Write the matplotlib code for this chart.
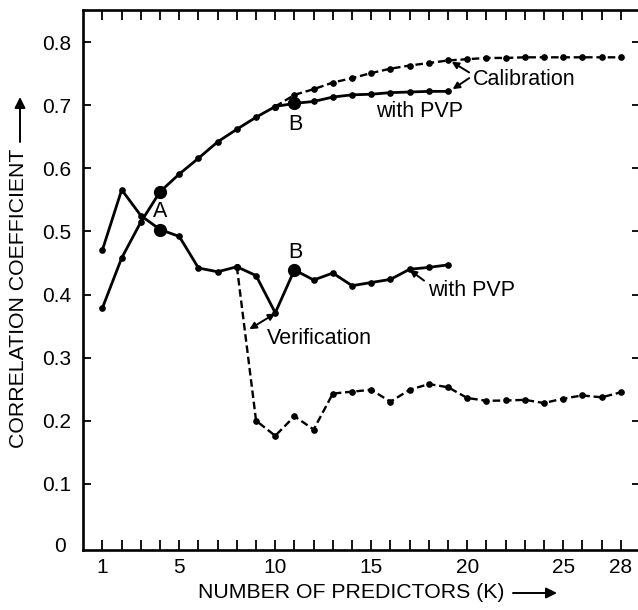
import matplotlib
matplotlib.use("Agg")
import matplotlib.pyplot as plt

plt.rcParams['font.family'] = ['Liberation Sans', 'DejaVu Sans']

# number of predictors
k_all = list(range(1, 29))
k_pvp = list(range(1, 20))

# calibration curve (without PVP), K = 1..28
calib = [0.379, 0.458, 0.515, 0.563, 0.591, 0.616, 0.642, 0.662, 0.681, 0.698,
         0.7165, 0.7255, 0.736, 0.743, 0.751, 0.758, 0.763, 0.767, 0.771, 0.773,
         0.775, 0.775, 0.776, 0.776, 0.776, 0.776, 0.776, 0.776]
# calibration with PVP, K = 1..19
calib_pvp = [0.379, 0.458, 0.515, 0.563, 0.591, 0.616, 0.642, 0.662, 0.681, 0.698,
             0.703, 0.706, 0.713, 0.7165, 0.7175, 0.720, 0.721, 0.722, 0.722]

# verification curve (without PVP), K = 1..28
verif = [0.471, 0.566, 0.525, 0.503, 0.492, 0.442, 0.436, 0.444, 0.200, 0.176,
         0.207, 0.186, 0.243, 0.246, 0.249, 0.230, 0.249, 0.258, 0.253, 0.236,
         0.2315, 0.232, 0.233, 0.228, 0.235, 0.240, 0.237, 0.245]
# verification with PVP, K = 1..19
verif_pvp = [0.471, 0.566, 0.525, 0.503, 0.492, 0.442, 0.436, 0.444, 0.430, 0.371,
             0.439, 0.423, 0.434, 0.414, 0.419, 0.424, 0.440, 0.443, 0.447]

calib_split = 10   # K where calibration curves separate
verif_split = 8    # K where verification curves separate
point_a = 4
point_b = 11

xtick_labels = {1: '1', 5: '5', 10: '10', 15: '15', 20: '20', 25: '25', 28: '28'}
yticks = [0.1, 0.2, 0.3, 0.4, 0.5, 0.6, 0.7, 0.8]

W, H = 638, 610
fig = plt.figure(figsize=(W / 100, H / 100), dpi=100)
ax = fig.add_axes([83.3 / W, 1 - 550 / H, (640 - 83.3) / W, 540 / H])

lw = 2.0
dash = (0, (3.2, 1.6))
ms = 3.8

# calibration
ax.plot(k_all[:calib_split], calib[:calib_split], '-', color='k', lw=lw,
        marker='o', ms=ms)
ax.plot(k_all[calib_split - 1:], calib[calib_split - 1:], color='k', lw=1.7,
        linestyle=dash, marker='o', ms=ms)
ax.plot(k_pvp[calib_split - 1:], calib_pvp[calib_split - 1:], '-', color='k',
        lw=lw, marker='o', ms=ms)

# verification
ax.plot(k_all[:verif_split], verif[:verif_split], '-', color='k', lw=lw,
        marker='o', ms=ms)
ax.plot(k_all[verif_split - 1:], verif[verif_split - 1:], color='k', lw=1.7,
        linestyle=dash, marker='o', ms=ms)
ax.plot(k_pvp[verif_split - 1:], verif_pvp[verif_split - 1:], '-', color='k',
        lw=lw, marker='o', ms=ms)

# points A and B
big = 8.5
ax.plot([point_a, point_a], [calib[point_a - 1], verif[point_a - 1]], 'o',
        color='k', ms=big, ls='none')
ax.plot([point_b, point_b], [calib_pvp[point_b - 1], verif_pvp[point_b - 1]],
        'o', color='k', ms=big, ls='none')

fs = 15.5
ax.text(4.0, 0.532, 'A', fontsize=fs, ha='center', va='center')
ax.text(11.05, 0.669, 'B', fontsize=fs, ha='center', va='center')
ax.text(11.05, 0.466, 'B', fontsize=fs, ha='center', va='center')
ax.text(17.5, 0.690, 'with PVP', fontsize=fs, ha='center', va='center')
ax.text(20.3, 0.741, 'Calibration', fontsize=fs, ha='left', va='center')
ax.text(17.95, 0.407, 'with PVP', fontsize=fs, ha='left', va='center')
ax.text(9.55, 0.331, 'Verification', fontsize=fs, ha='left', va='center')

arw = dict(arrowstyle='-|>', color='k', lw=1.4, mutation_scale=10,
           shrinkA=0, shrinkB=0)
ax.annotate('', xy=(19.19, 0.769), xytext=(20.1, 0.752), arrowprops=arw)
ax.annotate('', xy=(19.24, 0.7255), xytext=(20.1, 0.743), arrowprops=arw)
ax.annotate('', xy=(17.0, 0.439), xytext=(17.75, 0.422), arrowprops=arw)
ax.annotate('', xy=(8.65, 0.345), xytext=(10.0, 0.370),
            arrowprops=dict(arrowstyle='<|-|>', color='k', lw=1.4,
                            mutation_scale=10, shrinkA=0, shrinkB=0))

ax.set_xlim(0, 29)
ax.set_ylim(-0.005, 0.851)

ax.set_xticks(k_all)
ax.set_xticklabels([xtick_labels.get(k, '') for k in k_all])
ax.set_yticks(yticks)
ax.set_yticklabels(['%.1f' % v for v in yticks])
ax.tick_params(axis='x', direction='in', length=7, width=1.3, top=True,
               labelsize=15, pad=6)
ax.tick_params(axis='y', direction='in', length=6, width=1.3, right=True,
               labelsize=15, pad=9)
for s in ax.spines.values():
    s.set_linewidth(1.9)

# "0" label at the origin
fig.text(60 / W, 1 - 546 / H, '0', fontsize=15, ha='center', va='center')

# axis titles with arrows
fig.text(19 / W, 1 - 298 / H, 'CORRELATION COEFFICIENT', rotation=90,
         fontsize=15.3, ha='center', va='center')
fig.text(351.5 / W, 1 - 592 / H, 'NUMBER OF PREDICTORS (K)', fontsize=15.3,
         ha='center', va='center')
farw = dict(arrowstyle='-|>', color='k', lw=1.4, mutation_scale=16,
            shrinkA=0, shrinkB=0)
fig.add_artist(matplotlib.patches.FancyArrowPatch(
    (20 / W, 1 - 142 / H), (20 / W, 1 - 97 / H),
    transform=fig.transFigure, **farw))
fig.add_artist(matplotlib.patches.FancyArrowPatch(
    (513 / W, 1 - 593 / H), (557 / W, 1 - 593 / H),
    transform=fig.transFigure, **farw))

fig.savefig('out.png', dpi=100)
